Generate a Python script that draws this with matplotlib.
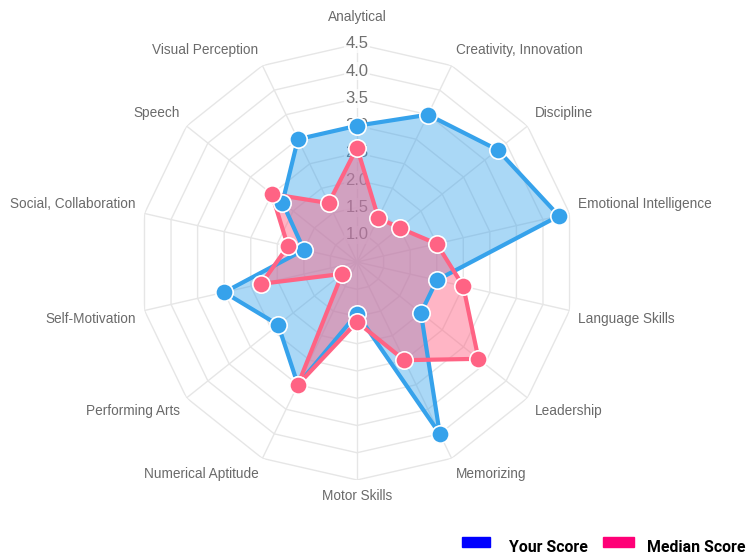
import matplotlib.pyplot as plt
import matplotlib.patches as mpatches
import numpy as np

categories = ['Analytical', 'Creativity, Innovation', 'Discipline',
              'Emotional Intelligence', 'Language Skills', 'Leadership',
              'Memorizing', 'Motor Skills', 'Numerical Aptitude',
              'Performing Arts', 'Self-Motivation', 'Social, Collaboration',
              'Speech', 'Visual Perception']
your_score = [3.0, 3.5, 3.8, 4.3, 2.0, 2.0, 4.0, 1.45, 3.0, 2.35, 3.0, 1.5, 2.25, 3.0]
median_score = [2.6, 1.4, 1.5, 2.0, 2.5, 3.35, 2.5, 1.6, 3.0, 0.85, 2.3, 1.8, 2.5, 1.7]
ticks = [1.0, 1.5, 2.0, 2.5, 3.0, 3.5, 4.0, 4.5]
r_min, r_max = 0.5, 4.5

blue = '#36a2eb'
red = '#ff6384'
grid_c = '#e6e6e6'

n = len(categories)
theta = np.arange(n) * 2 * np.pi / n
theta_c = np.append(theta, theta[0])

fig = plt.figure(figsize=(7.49, 5.56), dpi=100)
ax = fig.add_axes([0.1856, 0.1367, 0.5821, 0.7842], projection='polar')
ax.set_theta_zero_location('N')
ax.set_theta_direction(-1)
ax.set_ylim(r_min, r_max)
ax.grid(False)
ax.spines['polar'].set_visible(False)
ax.set_xticks([])
ax.set_yticks([])

# polygon rings and spokes
for r in ticks:
    ax.plot(theta_c, [r] * (n + 1), color=grid_c, lw=1, zorder=1)
for t in theta:
    ax.plot([t, t], [r_min, r_max], color=grid_c, lw=1, zorder=1)

# radial tick labels along the first axis
for r in ticks:
    ax.text(0, r, f'{r:.1f}', ha='center', va='center', fontsize=12,
            color='#707070', family='Liberation Sans', zorder=2,
            bbox=dict(boxstyle='square,pad=0.1', fc='white', ec='none', alpha=0.75))

# category labels just outside the outer ring
pad = 9 * 0.72
for t, lab in zip(theta, categories):
    s, c = np.sin(t), np.cos(t)
    ha = 'left' if s > 0.05 else ('right' if s < -0.05 else 'center')
    va = 'bottom' if c > 0 else 'top'
    extra = 11 * 0.72 if abs(s) < 0.05 and c > 0 else 0
    ax.annotate(lab, xy=(t, r_max), xytext=(pad * s, pad * c + extra),
                textcoords='offset points', ha=ha, va=va, fontsize=9.8,
                color='#6a6a6a', family='Liberation Sans', annotation_clip=False)

for vals, col, a in [(your_score, blue, 0.42), (median_score, red, 0.47)]:
    v = np.append(vals, vals[0])
    ax.fill(theta_c, v, color=col, alpha=a, lw=0, zorder=3)
    ax.plot(theta_c, v, color=col, lw=3, zorder=4)
    ax.plot(theta, vals, 'o', color=col, ms=12.5, mec='white', mew=1.2, zorder=5)

# legend along the bottom edge
for x0, w, col, lab, tx in [(462, 28, '#0000ff', 'Your Score', 509),
                            (603, 31, '#ff0077', 'Median Score', 647)]:
    fig.add_artist(mpatches.Rectangle((x0 / 749, 9 / 556), w / 749, 10 / 556,
                                      transform=fig.transFigure, color=col))
    fig.text(tx / 749, 8 / 556, lab, fontsize=11.4, fontweight='bold',
             family='Roboto', color='#000000', va='center')

fig.savefig('out.png', dpi=100)
